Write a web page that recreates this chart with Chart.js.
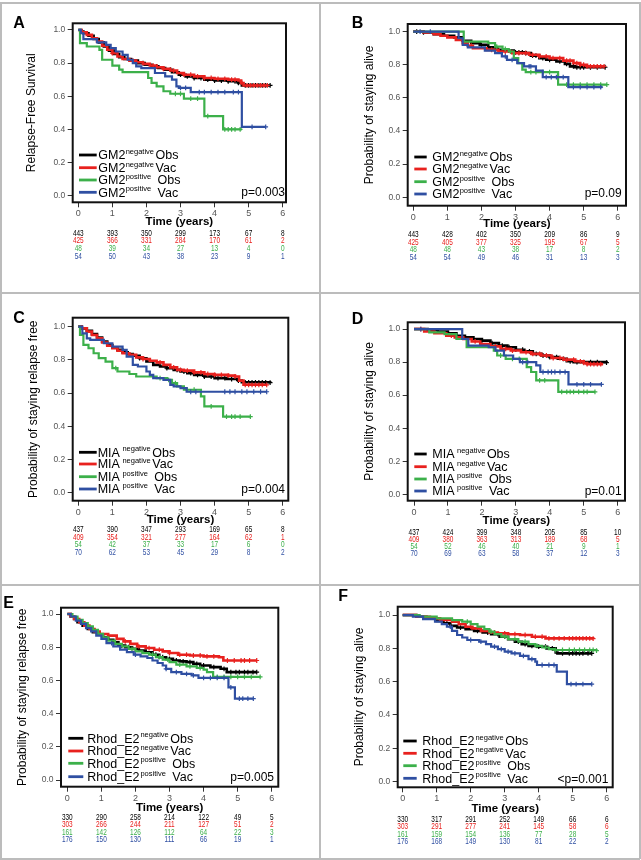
<!DOCTYPE html>
<html><head><meta charset="utf-8">
<script src="https://cdn.jsdelivr.net/npm/chart.js@4.4.1/dist/chart.umd.min.js"></script>
<style>
html,body{margin:0;padding:0;background:#fff;width:641px;height:860px;overflow:hidden;position:relative;}
canvas{position:absolute;}
.ln{position:absolute;background:#bcbcbc;}
</style></head><body>
<script>
// ---------------- DATA ----------------
const xTicks = [0,1,2,3,4,5,6];
const yTicks = [0,0.2,0.4,0.6,0.8,1.0];
const SUPS = ['negative','negative','positive','positive'];
const SUFFIX = ['Obs','Vac','Obs','Vac'];
const COLORS = ['#000000','#e8211e','#3cb04a','#2f4fa2'];

// Panel A : GM2, relapse-free survival
const A_negObs = [[0,1],[0.08,0.99],[0.15,0.98],[0.3,0.965],[0.45,0.945],[0.6,0.925],[0.75,0.9],[0.9,0.875],[1.05,0.855],[1.2,0.835],[1.35,0.825],[1.55,0.815],[1.75,0.8],[1.95,0.79],[2.15,0.78],[2.35,0.77],[2.55,0.76],[2.75,0.745],[2.95,0.73],[3.15,0.72],[3.4,0.71],[3.7,0.7],[4.0,0.695],[4.4,0.69],[4.7,0.68],[4.8,0.665],[5.63,0.665]];
const A_negVac = [[0,1],[0.1,0.985],[0.25,0.97],[0.4,0.95],[0.55,0.93],[0.7,0.905],[0.85,0.88],[1.0,0.86],[1.15,0.84],[1.3,0.825],[1.5,0.815],[1.7,0.805],[1.9,0.795],[2.1,0.785],[2.3,0.775],[2.5,0.765],[2.7,0.755],[2.9,0.74],[3.1,0.73],[3.4,0.72],[3.7,0.71],[4.0,0.705],[4.4,0.7],[4.7,0.695],[4.78,0.68],[4.85,0.665],[5.55,0.665]];
const A_posObs = [[0,1],[0.05,0.92],[0.25,0.9],[0.62,0.88],[0.7,0.82],[1.0,0.785],[1.2,0.76],[1.3,0.745],[2.05,0.71],[2.15,0.68],[2.3,0.66],[2.5,0.63],[2.7,0.615],[3.1,0.585],[3.7,0.48],[4.25,0.4],[4.8,0.4]];
const A_posVac = [[0,1],[0.08,0.98],[0.15,0.945],[0.55,0.925],[0.82,0.91],[0.95,0.89],[1.1,0.87],[1.3,0.85],[1.45,0.82],[1.6,0.8],[1.7,0.78],[1.85,0.77],[2.25,0.74],[2.55,0.72],[2.75,0.7],[2.88,0.66],[2.95,0.65],[3.3,0.625],[4.8,0.415],[5.5,0.415]];
const A_negObs_cens = [1.9,2.3,2.7,3.0,3.2,3.4,3.6,3.8,4.0,4.2,4.4,4.6,4.7,4.9,5.0,5.1,5.2,5.3,5.4,5.5,5.63];
const A_negVac_cens = [1.0,1.6,2.2,2.5,2.8,3.1,3.3,3.5,3.7,3.9,4.1,4.3,4.5,4.6,4.8,4.95,5.05,5.15,5.25,5.35,5.45,5.55];
const A_posObs_cens = [2.85,3.0,3.3,3.5,3.8,4.3,4.4,4.5,4.6,4.75];
const A_posVac_cens = [3.0,3.15,3.55,3.7,3.9,4.1,4.3,4.55,4.7,5.1,5.5];
const A_negObs_risk = [443,393,350,299,173,67,8];
const A_negVac_risk = [425,366,331,284,170,61,2];
const A_posObs_risk = [48,39,34,27,13,4,0];
const A_posVac_risk = [54,50,43,38,23,9,1];

// Panel B : GM2, overall survival
const B_negObs = [[0,1],[0.3,0.995],[0.6,0.985],[0.9,0.975],[1.2,0.965],[1.45,0.945],[1.7,0.93],[1.95,0.92],[2.2,0.905],[2.45,0.89],[2.7,0.885],[2.95,0.875],[3.3,0.87],[3.45,0.855],[3.7,0.84],[3.9,0.83],[4.2,0.82],[4.45,0.805],[4.6,0.79],[4.75,0.785],[5.63,0.785]];
const B_negVac = [[0,1],[0.3,0.995],[0.6,0.985],[0.8,0.975],[1.0,0.965],[1.25,0.95],[1.45,0.93],[1.6,0.915],[1.75,0.9],[2.15,0.89],[2.5,0.88],[2.9,0.87],[3.4,0.86],[3.7,0.85],[4.0,0.84],[4.4,0.825],[4.7,0.81],[4.9,0.8],[5.1,0.79],[5.6,0.79]];
const B_posObs = [[0,1],[1.48,0.94],[2.2,0.93],[2.4,0.91],[2.62,0.895],[2.8,0.88],[2.95,0.84],[3.08,0.81],[3.2,0.77],[3.3,0.755],[4.25,0.68],[5.68,0.68]];
const B_posVac = [[0,1],[1.33,0.96],[1.45,0.92],[1.6,0.905],[2.1,0.885],[2.4,0.87],[2.6,0.85],[2.75,0.83],[3.05,0.81],[3.25,0.79],[3.6,0.765],[3.8,0.725],[4.55,0.665],[5.55,0.665]];
const B_negObs_cens = [0.1,0.3,2.0,2.5,2.8,3.0,3.1,3.2,3.3,3.5,3.6,3.8,4.0,4.3,4.5,4.7,4.8,4.9,5.0,5.2,5.4,5.63];
const B_negVac_cens = [1.7,2.3,2.7,3.1,3.3,3.5,3.7,3.9,4.1,4.3,4.5,4.6,4.8,4.9,5.0,5.1,5.2,5.3,5.4,5.5,5.6];
const B_posObs_cens = [2.45,2.7,2.85,3.45,3.6,3.8,4.0,4.5,4.7,4.9,5.1,5.3,5.5,5.68];
const B_posVac_cens = [0.2,0.5,2.7,2.9,3.4,3.45,3.9,4.05,4.2,4.4,4.7,4.9,5.1,5.3,5.5];
const B_negObs_risk = [443,428,402,350,209,86,9];
const B_negVac_risk = [425,405,377,325,195,67,5];
const B_posObs_risk = [48,48,43,38,17,8,2];
const B_posVac_risk = [54,54,49,46,31,13,3];

// Panel C : MIA, relapse free
const C_negObs = [[0,1],[0.1,0.99],[0.25,0.975],[0.4,0.955],[0.55,0.935],[0.7,0.91],[0.85,0.89],[1.0,0.875],[1.15,0.86],[1.3,0.845],[1.45,0.835],[1.6,0.825],[1.8,0.81],[2.0,0.79],[2.2,0.77],[2.4,0.76],[2.6,0.75],[2.8,0.74],[3.0,0.73],[3.2,0.72],[3.4,0.71],[3.7,0.7],[4.0,0.69],[4.35,0.685],[4.7,0.675],[4.8,0.665],[5.63,0.663]];
const C_negVac = [[0,1],[0.1,0.99],[0.25,0.97],[0.4,0.95],[0.55,0.93],[0.7,0.905],[0.85,0.885],[1.0,0.87],[1.15,0.855],[1.3,0.84],[1.5,0.83],[1.7,0.815],[1.9,0.805],[2.1,0.795],[2.3,0.785],[2.5,0.77],[2.7,0.755],[2.9,0.74],[3.1,0.735],[3.4,0.725],[3.7,0.715],[4.0,0.71],[4.4,0.705],[4.6,0.7],[4.72,0.675],[4.85,0.65],[5.53,0.65]];
const C_posObs = [[0,1],[0.05,0.95],[0.15,0.89],[0.3,0.87],[0.45,0.84],[0.6,0.81],[0.8,0.79],[1.0,0.75],[1.15,0.73],[1.5,0.715],[1.7,0.7],[2.3,0.69],[2.6,0.68],[2.75,0.66],[2.9,0.64],[3.1,0.62],[3.6,0.58],[3.7,0.52],[4.25,0.458],[5.05,0.458]];
const C_posVac = [[0,1],[0.12,0.96],[0.25,0.93],[0.35,0.92],[0.75,0.9],[1.0,0.88],[1.3,0.86],[1.42,0.82],[1.6,0.77],[1.75,0.76],[2.0,0.73],[2.1,0.71],[2.2,0.69],[2.5,0.68],[2.7,0.65],[2.8,0.64],[3.0,0.63],[3.18,0.608],[5.53,0.608]];
const C_negObs_cens = [1.8,2.6,2.9,3.1,3.3,3.5,3.7,3.9,4.1,4.3,4.5,4.7,4.9,5.0,5.1,5.2,5.3,5.4,5.5,5.63];
const C_negVac_cens = [1.9,2.4,2.8,3.0,3.2,3.4,3.6,3.8,4.0,4.2,4.4,4.6,4.9,5.0,5.1,5.2,5.3,5.4,5.53];
const C_posObs_cens = [1.1,2.4,2.65,2.85,3.2,3.4,3.9,4.35,4.5,4.6,4.75,5.05];
const C_posVac_cens = [3.3,3.45,4.3,4.45,4.6,4.8,4.95,5.15,5.35,5.53];
const C_negObs_risk = [437,390,347,293,169,65,8];
const C_negVac_risk = [409,354,321,277,164,62,1];
const C_posObs_risk = [54,42,37,33,17,6,0];
const C_posVac_risk = [70,62,53,45,29,8,2];

// Panel D : MIA, overall survival
const D_negObs = [[0,1],[0.4,0.995],[0.7,0.985],[1.0,0.975],[1.25,0.96],[1.5,0.95],[1.75,0.94],[2.0,0.93],[2.25,0.915],[2.5,0.9],[2.75,0.89],[3.0,0.875],[3.25,0.865],[3.5,0.85],[3.75,0.84],[4.0,0.83],[4.25,0.82],[4.5,0.805],[4.7,0.8],[5.67,0.797]];
const D_negVac = [[0,1],[0.3,0.985],[0.6,0.975],[0.95,0.96],[1.2,0.95],[1.45,0.94],[1.7,0.925],[1.95,0.91],[2.25,0.895],[2.55,0.88],[2.85,0.87],[3.15,0.86],[3.45,0.85],[3.75,0.84],[4.05,0.825],[4.4,0.815],[4.75,0.805],[5.0,0.795],[5.1,0.788],[5.57,0.788]];
const D_posObs = [[0,1],[0.45,0.98],[0.9,0.97],[1.25,0.94],[1.55,0.89],[2.35,0.87],[2.45,0.84],[2.7,0.82],[3.32,0.77],[3.45,0.74],[3.6,0.69],[4.25,0.62],[5.33,0.62]];
const D_posVac = [[0,1],[1.42,0.94],[1.6,0.9],[2.2,0.89],[2.4,0.87],[2.65,0.84],[2.92,0.82],[3.12,0.8],[3.6,0.78],[3.72,0.74],[4.55,0.665],[5.52,0.665]];
const D_negObs_cens = [1.0,1.5,2.0,2.3,2.6,2.8,3.0,3.2,3.4,3.6,3.8,4.0,4.2,4.4,4.6,4.8,5.0,5.2,5.4,5.67];
const D_negVac_cens = [0.2,1.1,1.8,2.4,2.7,2.9,3.3,3.5,3.7,3.9,4.1,4.3,4.5,4.7,4.9,5.0,5.1,5.2,5.3,5.4,5.5];
const D_posObs_cens = [2.55,2.9,3.1,3.7,3.85,4.35,4.5,4.6,4.7,4.85,5.0,5.1,5.33];
const D_posVac_cens = [0.2,3.2,3.35,3.8,3.95,4.05,4.15,4.3,4.45,4.8,5.0,5.2,5.52];
const D_negObs_risk = [437,424,399,348,205,85,10];
const D_negVac_risk = [409,380,363,313,189,68,5];
const D_posObs_risk = [54,52,46,40,21,9,1];
const D_posVac_risk = [70,69,63,58,37,12,3];

// Panel E : Rhod_E2, relapse free
const E_negObs = [[0,1],[0.1,0.985],[0.2,0.97],[0.3,0.95],[0.45,0.93],[0.6,0.91],[0.75,0.89],[0.9,0.875],[1.05,0.86],[1.2,0.845],[1.35,0.83],[1.5,0.81],[1.7,0.8],[1.9,0.79],[2.1,0.78],[2.3,0.77],[2.5,0.755],[2.7,0.74],[2.9,0.73],[3.1,0.72],[3.3,0.715],[3.5,0.71],[3.7,0.7],[3.9,0.69],[4.2,0.68],[4.5,0.67],[4.68,0.65],[5.56,0.65]];
const E_negVac = [[0,1],[0.1,0.985],[0.2,0.97],[0.35,0.95],[0.5,0.93],[0.65,0.91],[0.8,0.895],[0.95,0.88],[1.2,0.87],[1.45,0.85],[1.65,0.835],[1.85,0.82],[2.05,0.805],[2.3,0.795],[2.55,0.785],[2.8,0.775],[3.0,0.765],[3.25,0.755],[3.6,0.75],[4.0,0.745],[4.45,0.74],[4.58,0.72],[5.56,0.72]];
const E_posObs = [[0,1],[0.15,0.985],[0.3,0.965],[0.45,0.945],[0.6,0.925],[0.75,0.905],[0.9,0.88],[1.05,0.86],[1.2,0.84],[1.4,0.82],[1.6,0.805],[1.8,0.79],[2.0,0.775],[2.2,0.765],[2.4,0.755],[2.6,0.74],[2.8,0.725],[3.0,0.71],[3.2,0.695],[3.5,0.685],[3.8,0.675],[4.0,0.665],[4.1,0.65],[4.28,0.622],[5.66,0.622]];
const E_posVac = [[0,1],[0.1,0.985],[0.25,0.96],[0.4,0.94],[0.55,0.915],[0.7,0.895],[0.85,0.87],[1.0,0.85],[1.15,0.825],[1.35,0.805],[1.55,0.785],[1.75,0.77],[1.95,0.755],[2.15,0.745],[2.35,0.735],[2.5,0.72],[2.65,0.705],[2.8,0.69],[2.9,0.67],[3.05,0.65],[3.35,0.64],[3.65,0.63],[3.85,0.615],[4.73,0.558],[4.92,0.49],[5.46,0.49]];
const E_negObs_cens = [1.6,1.8,2.6,2.8,3.0,3.2,3.4,3.6,3.8,4.0,4.3,4.6,4.8,4.95,5.05,5.2,5.3,5.45,5.56];
const E_negVac_cens = [1.7,2.1,2.4,2.7,3.0,3.3,3.5,3.7,3.9,4.1,4.3,4.7,4.9,5.1,5.2,5.35,5.56];
const E_posObs_cens = [1.9,2.5,2.7,2.95,3.3,3.6,3.9,4.4,4.6,4.8,5.0,5.2,5.4,5.66];
const E_posVac_cens = [1.3,2.0,2.9,3.2,3.5,3.7,4.0,4.2,4.4,4.6,4.8,5.05,5.15,5.3,5.46];
const E_negObs_risk = [330,290,258,214,122,49,5];
const E_negVac_risk = [303,266,244,211,127,51,2];
const E_posObs_risk = [161,142,126,112,64,22,3];
const E_posVac_risk = [176,150,130,111,66,19,1];

// Panel F : Rhod_E2, overall survival
const F_negObs = [[0,1],[0.4,0.99],[0.7,0.98],[1.0,0.965],[1.2,0.95],[1.4,0.935],[1.6,0.925],[1.85,0.915],[2.1,0.905],[2.35,0.895],[2.6,0.885],[2.85,0.87],[3.1,0.855],[3.3,0.84],[3.5,0.825],[3.7,0.815],[3.95,0.81],[4.25,0.8],[4.5,0.775],[4.55,0.77],[5.56,0.77]];
const F_negVac = [[0,1],[0.4,0.99],[0.8,0.98],[1.1,0.97],[1.45,0.96],[1.65,0.945],[1.85,0.93],[2.05,0.92],[2.3,0.905],[2.55,0.895],[2.8,0.89],[3.1,0.885],[3.45,0.88],[3.8,0.87],[4.2,0.86],[5.6,0.858]];
const F_posObs = [[0,1],[0.5,0.99],[1.0,0.98],[1.45,0.97],[1.75,0.96],[2.0,0.945],[2.2,0.93],[2.4,0.915],[2.55,0.9],[2.7,0.885],[2.9,0.87],[3.1,0.855],[3.4,0.84],[3.7,0.825],[3.9,0.815],[4.1,0.805],[4.3,0.795],[4.45,0.79],[5.7,0.786]];
const F_posVac = [[0,1],[0.3,0.99],[0.6,0.975],[0.95,0.96],[1.15,0.945],[1.3,0.93],[1.45,0.905],[1.6,0.88],[1.75,0.865],[1.9,0.85],[2.25,0.84],[2.45,0.825],[2.6,0.81],[2.8,0.795],[3.0,0.78],[3.2,0.77],[3.45,0.755],[3.7,0.735],[3.9,0.72],[3.95,0.7],[4.53,0.66],[4.83,0.585],[5.56,0.585]];
const F_negObs_cens = [1.3,1.7,2.2,2.5,2.8,3.0,3.4,3.6,3.8,4.0,4.2,4.4,4.7,4.9,5.0,5.1,5.2,5.3,5.45,5.56];
const F_negVac_cens = [2.0,2.7,3.0,3.3,3.6,3.9,4.1,4.3,4.45,4.6,4.75,4.9,5.0,5.1,5.2,5.3,5.4,5.5,5.6];
const F_posObs_cens = [1.9,2.6,3.0,3.3,3.6,3.95,4.2,4.5,4.7,4.9,5.05,5.2,5.35,5.5,5.6,5.7];
const F_posVac_cens = [1.4,2.0,2.3,2.7,2.9,3.1,3.3,3.55,3.8,4.1,4.3,4.45,4.95,5.1,5.3,5.56];
const F_negObs_risk = [330,317,291,252,149,66,6];
const F_negVac_risk = [303,291,277,241,145,58,6];
const F_posObs_risk = [161,159,154,136,77,28,5];
const F_posVac_risk = [176,168,149,130,81,22,2];

// ---------------- PANELS (layout) ----------------
const S = (steps, cens, risk) => ({steps, cens, risk});
const PANELS = [
 {id:'A', cell:[0,0,320,293], frame:[72.7,23.3,286,202.3], xr:[-0.164,6.096], yr:[-0.040,1.040],
  ytitle:'Relapse-Free Survival', ytx:32, xtdy:19.7, base:'GM2', supGap:0.3, p:'p=0.003', pPos:[-1,-10],
  legRows:[-47.3,-34.6,-22.3,-10], legLine:[6.3,24], legText:25.6, riskDy:31, riskStep:7.7, letter:[13.3,28.3],
  series:[S(A_negObs,A_negObs_cens,A_negObs_risk),S(A_negVac,A_negVac_cens,A_negVac_risk),S(A_posObs,A_posObs_cens,A_posObs_risk),S(A_posVac,A_posVac_cens,A_posVac_risk)]},
 {id:'B', cell:[320,0,320,293], frame:[407.7,24,626,205.7], xr:[-0.164,6.243], yr:[-0.051,1.046],
  ytitle:'Probability of staying alive', ytx:370, xtdy:18.3, base:'GM2', supGap:0.3, p:'p=0.09', pPos:[-4.3,-11.7],
  legRows:[-48.7,-36.7,-24,-11.7], legLine:[6.6,19], legText:24.6, riskDy:29.3, riskStep:7.4, letter:[31.7,27.7],
  series:[S(B_negObs,B_negObs_cens,B_negObs_risk),S(B_negVac,B_negVac_cens,B_negVac_risk),S(B_posObs,B_posObs_cens,B_posObs_risk),S(B_posVac,B_posVac_cens,B_posVac_risk)]},
 {id:'C', cell:[0,293,320,292], frame:[72.7,317.7,288.3,500.7], xr:[-0.164,6.164], yr:[-0.048,1.054],
  ytitle:'Probability of staying relapse free', ytx:33.3, xtdy:19.3, base:'MIA', supGap:2.5, p:'p=0.004', pPos:[-3.3,-10.7],
  legRows:[-48.4,-36.7,-24,-11.7], legLine:[6.3,24], legText:25, riskDy:29.3, riskStep:7.4, letter:[13.3,30.3],
  series:[S(C_negObs,C_negObs_cens,C_negObs_risk),S(C_negVac,C_negVac_cens,C_negVac_risk),S(C_posObs,C_posObs_cens,C_posObs_risk),S(C_posVac,C_posVac_cens,C_posVac_risk)]},
 {id:'D', cell:[320,293,320,292], frame:[407.7,322.3,625,500.7], xr:[-0.186,6.215], yr:[-0.039,1.041],
  ytitle:'Probability of staying alive', ytx:370, xtdy:20.3, base:'MIA', supGap:2.5, p:'p=0.01', pPos:[-3.3,-9],
  legRows:[-46.7,-34,-21.7,-9.7], legLine:[6.6,19], legText:24.6, riskDy:31.6, riskStep:7.2, letter:[31.7,31],
  series:[S(D_negObs,D_negObs_cens,D_negObs_risk),S(D_negVac,D_negVac_cens,D_negVac_risk),S(D_posObs,D_posObs_cens,D_posObs_risk),S(D_posVac,D_posVac_cens,D_posVac_risk)]},
 {id:'E', cell:[0,585,320,275], frame:[61,607.7,278.3,786.7], xr:[-0.185,6.193], yr:[-0.040,1.038],
  ytitle:'Probability of staying relapse free', ytx:22.7, xtdy:21, base:'Rhod_E2', supGap:1, p:'p=0.005', pPos:[-4.3,-9.4],
  legRows:[-48.4,-35.7,-23.4,-10], legLine:[7.3,22.3], legText:26.3, riskDy:31, riskStep:7.3, letter:[3.3,23.3],
  series:[S(E_negObs,E_negObs_cens,E_negObs_risk),S(E_negVac,E_negVac_cens,E_negVac_risk),S(E_posObs,E_posObs_cens,E_posObs_risk),S(E_posVac,E_posVac_cens,E_posVac_risk)]},
 {id:'F', cell:[320,585,321,275], frame:[397.7,606.7,612.7,787.3], xr:[-0.147,6.176], yr:[-0.034,1.050],
  ytitle:'Probability of staying alive', ytx:359.3, xtdy:22, base:'Rhod_E2', supGap:1, p:'<p=0.001', pPos:[-4.4,-8],
  legRows:[-46.3,-34,-21.6,-9], legLine:[5.6,19], legText:24.6, riskDy:32, riskStep:7.4, letter:[18.3,16],
  series:[S(F_negObs,F_negObs_cens,F_negObs_risk),S(F_negVac,F_negVac_cens,F_negVac_risk),S(F_posObs,F_posObs_cens,F_posObs_risk),S(F_posVac,F_posVac_cens,F_posVac_risk)]}
];

// ---------------- RENDER ----------------
const FF = 'Arial, "Liberation Sans", Helvetica, sans-serif';
Chart.defaults.font.family = FF;

function buildPoints(steps, cens) {
  const pts = steps.map(([x, y]) => ({x, y, c: 0}));
  cens.forEach(t => {
    let s = steps[0][1];
    for (const [x, y] of steps) { if (x <= t) s = y; }
    pts.push({x: t, y: s, c: 1});
  });
  pts.sort((a, b) => (a.x - b.x) || (a.c - b.c));
  return pts;
}

function makePlugin(P) {
  return {
    id: 'km' + P.id,
    afterDraw(chart) {
      const ctx = chart.ctx, ca = chart.chartArea, xs = chart.scales.x;
      ctx.save();
      ctx.strokeStyle = '#111'; ctx.lineWidth = 2;
      ctx.strokeRect(ca.left, ca.top, ca.right - ca.left, ca.bottom - ca.top);
      // panel letter
      ctx.fillStyle = '#000'; ctx.font = 'bold 16px ' + FF;
      ctx.textAlign = 'left'; ctx.textBaseline = 'alphabetic';
      ctx.fillText(P.id, P.letter[0], P.letter[1]);
      // legend
      const mainF = '12.5px ' + FF, supF = '7.5px ' + FF;
      ctx.font = mainF; const bw = ctx.measureText(P.base).width;
      ctx.font = supF; const nw = ctx.measureText('negative').width;
      P.series.forEach((s, i) => {
        const y = ca.bottom + P.legRows[i];
        ctx.strokeStyle = COLORS[i]; ctx.lineWidth = 2.8;
        ctx.beginPath(); ctx.moveTo(ca.left + P.legLine[0], y); ctx.lineTo(ca.left + P.legLine[1], y); ctx.stroke();
        const tx = ca.left + P.legText, by = y + 4.3;
        ctx.fillStyle = '#000';
        ctx.font = mainF; ctx.fillText(P.base, tx, by);
        ctx.font = supF; ctx.fillText(SUPS[i], tx + bw + P.supGap, by - 5.3);
        ctx.font = mainF; ctx.fillText(SUFFIX[i], tx + bw + P.supGap + nw + 1.5 + (i >= 2 ? 2 : 0), by);
      });
      // p value
      ctx.textAlign = 'right'; ctx.textBaseline = 'middle'; ctx.font = '12px ' + FF; ctx.fillStyle = '#000';
      ctx.fillText(P.p, ca.right + P.pPos[0], ca.bottom + P.pPos[1]);
      // numbers at risk
      ctx.textAlign = 'center'; ctx.textBaseline = 'middle'; ctx.font = '9px ' + FF;
      P.series.forEach((s, i) => {
        ctx.fillStyle = COLORS[i];
        s.risk.forEach((v, j) => {
          const px = xs.getPixelForValue(xTicks[j]);
          const py = ca.bottom + P.riskDy + i * P.riskStep;
          ctx.save(); ctx.translate(px, py); ctx.scale(0.72, 1); ctx.fillText(String(v), 0, 0); ctx.restore();
        });
      });
      ctx.restore();
    }
  };
}

const XH = 32;
PANELS.forEach(P => {
  const [cx, cy, cw, ch] = P.cell;
  const [fl, ft, fr, fb] = P.frame;
  const cv = document.createElement('canvas');
  cv.width = cw; cv.height = ch;
  cv.style.left = cx + 'px'; cv.style.top = cy + 'px';
  cv.style.width = cw + 'px'; cv.style.height = ch + 'px';
  document.body.appendChild(cv);
  const datasets = P.series.map((s, i) => ({
    data: buildPoints(s.steps, s.cens),
    borderColor: COLORS[i], backgroundColor: COLORS[i],
    borderWidth: i < 2 ? 2.6 : 2.2, stepped: 'before', fill: false,
    pointStyle: 'cross', pointBorderColor: COLORS[i], pointBorderWidth: 1.2,
    pointRadius: c => (c.raw && c.raw.c) ? 2.4 : 0, pointHoverRadius: 0,
    order: [3, 2, 1, 0][i]
  }));
  new Chart(cv, {
    type: 'line',
    data: {datasets},
    options: {
      responsive: false, animation: false, devicePixelRatio: 1,
      events: [],
      layout: {padding: {left: 0, top: ft - cy, right: cx + cw - fr, bottom: cy + ch - fb - XH}},
      plugins: {legend: {display: false}, tooltip: {enabled: false}},
      scales: {
        x: {
          type: 'linear', min: P.xr[0], max: P.xr[1],
          afterFit: s => { s.height = XH; },
          afterBuildTicks: s => { s.ticks = xTicks.map(v => ({value: v})); },
          grid: {drawOnChartArea: false, drawTicks: true, tickLength: 5, tickColor: '#333', tickWidth: 1},
          border: {display: false},
          ticks: {font: {size: 9}, color: '#555', padding: 1, maxRotation: 0, autoSkip: false, callback: v => String(v)},
          title: {display: true, text: 'Time (years)', color: '#000', font: {size: 11.5, weight: 'bold'},
                  padding: {top: 0, bottom: XH - 6.9 - P.xtdy}}
        },
        y: {
          type: 'linear', min: P.yr[0], max: P.yr[1],
          afterFit: s => { s.width = fl - cx; },
          afterBuildTicks: s => { s.ticks = yTicks.map(v => ({value: v})); },
          grid: {drawOnChartArea: false, drawTicks: true, tickLength: 5, tickColor: '#333', tickWidth: 1},
          border: {display: false},
          ticks: {font: {size: 8.5}, color: '#555', padding: 2.5, autoSkip: false, callback: v => Number(v).toFixed(1)},
          title: {display: true, text: P.ytitle, color: '#000', font: {size: 12},
                  padding: {top: P.ytx - cx - 7.2, bottom: 0}}
        }
      }
    },
    plugins: [makePlugin(P)]
  });
});

// panel borders
[[0,2,640,2],[0,2,2,857],[638.5,2,2,857],[0,857.5,640,2],[319,2,2,857],[0,292,640,2],[0,584,640,2]].forEach(r => {
  const d = document.createElement('div'); d.className = 'ln';
  d.style.left = r[0] + 'px'; d.style.top = r[1] + 'px'; d.style.width = r[2] + 'px'; d.style.height = r[3] + 'px';
  document.body.appendChild(d);
});
</script></body></html>
